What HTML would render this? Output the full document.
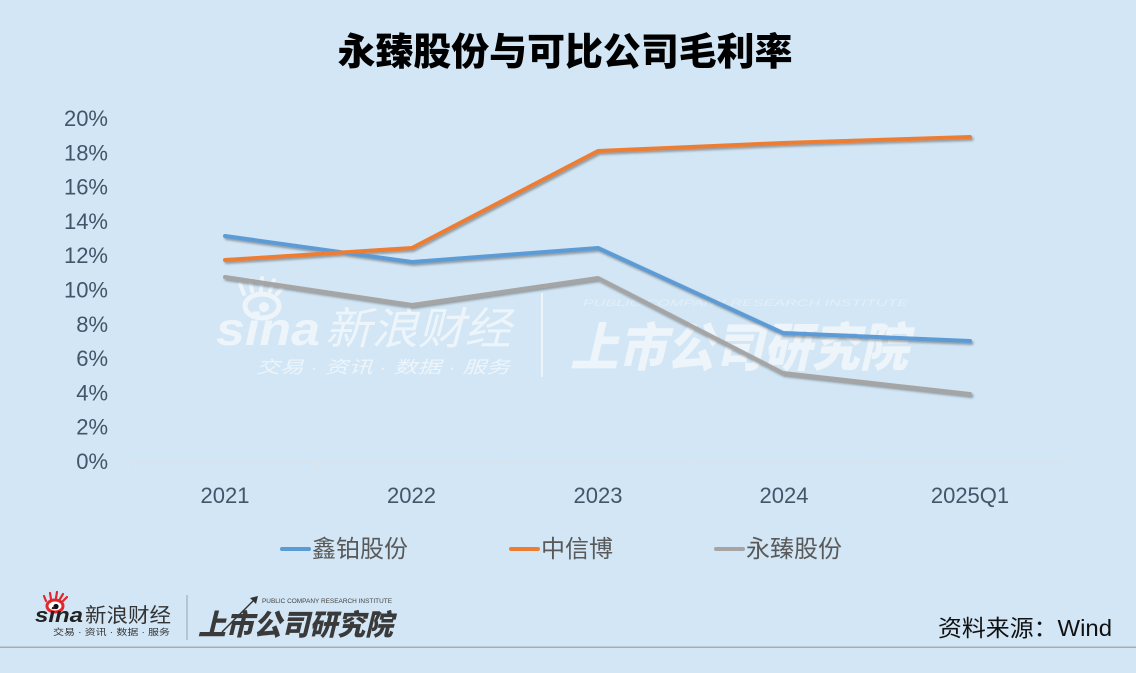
<!DOCTYPE html>
<html>
<head>
<meta charset="utf-8">
<style>
  html,body{margin:0;padding:0;background:#d2e6f5;}
  svg{display:block;}
</style>
</head>
<body>
<svg width="1136" height="673" viewBox="0 0 1136 673" xmlns="http://www.w3.org/2000/svg">
  <defs>
    <filter id="sh" x="-5%" y="-20%" width="110%" height="140%">
      <feDropShadow dx="1.5" dy="2" stdDeviation="1" flood-color="#404040" flood-opacity="0.45"/>
    </filter>
  </defs>
  <rect x="0" y="0" width="1136" height="673" fill="#d2e6f5"/>

  <!-- Title -->
  <text x="565" y="65" text-anchor="middle" font-family="'Liberation Sans','Noto Sans CJK SC',sans-serif" font-weight="900" font-size="38" fill="#000" textLength="455" lengthAdjust="spacingAndGlyphs">永臻股份与可比公司毛利率</text>

  <!-- Y axis labels -->
  <g font-family="'Liberation Sans',sans-serif" font-size="22" fill="#44546a" text-anchor="end">
    <text x="108" y="126">20%</text>
    <text x="108" y="160.3">18%</text>
    <text x="108" y="194.6">16%</text>
    <text x="108" y="228.9">14%</text>
    <text x="108" y="263.2">12%</text>
    <text x="108" y="297.5">10%</text>
    <text x="108" y="331.8">8%</text>
    <text x="108" y="366.1">6%</text>
    <text x="108" y="400.4">4%</text>
    <text x="108" y="434.7">2%</text>
    <text x="108" y="469">0%</text>
  </g>

  <!-- faint axis -->
  <g stroke="#dce3ea" stroke-width="1" fill="none">
    <line x1="132" y1="462" x2="1064" y2="462"/>
    <line x1="132" y1="462" x2="132" y2="469"/>
    <line x1="318.5" y1="462" x2="318.5" y2="469"/>
    <line x1="505" y1="462" x2="505" y2="469"/>
    <line x1="691.5" y1="462" x2="691.5" y2="469"/>
    <line x1="878" y1="462" x2="878" y2="469"/>
    <line x1="1064.5" y1="462" x2="1064.5" y2="469"/>
  </g>

  <!-- X axis labels -->
  <g font-family="'Liberation Sans',sans-serif" font-size="22" fill="#44546a" text-anchor="middle">
    <text x="225" y="503">2021</text>
    <text x="411.5" y="503">2022</text>
    <text x="598" y="503">2023</text>
    <text x="784" y="503">2024</text>
    <text x="970" y="503">2025Q1</text>
  </g>

  <!-- Watermark -->
  <g fill="#ffffff" opacity="0.6">
    <g transform="translate(262,306)">
      <ellipse cx="0" cy="0" rx="17" ry="12" fill="none" stroke="#fff" stroke-width="5"/>
      <circle cx="2" cy="1" r="5"/>
      <path d="M-18,-12 L-22,-22 M-10,-15 L-12,-26 M-1,-16 L0,-28 M8,-15 L12,-26 M15,-12 L22,-20" stroke="#fff" stroke-width="4" fill="none" stroke-linecap="round"/>
    </g>
    <text x="216" y="345" font-family="'Liberation Sans',sans-serif" font-weight="bold" font-style="italic" font-size="46" textLength="104" lengthAdjust="spacingAndGlyphs">sina</text>
    <text x="325" y="344" font-family="'Liberation Sans','Noto Sans CJK SC',sans-serif" font-size="44" font-style="italic" textLength="186" lengthAdjust="spacingAndGlyphs">新浪财经</text>
    <text x="256" y="373" font-family="'Liberation Sans','Noto Sans CJK SC',sans-serif" font-size="17" font-style="italic" textLength="254" lengthAdjust="spacingAndGlyphs">交易 · 资讯 · 数据 · 服务</text>
    <rect x="541" y="293" width="2" height="84"/>
    <text x="583" y="306" font-family="'Liberation Sans',sans-serif" font-size="9" font-style="italic" textLength="325" lengthAdjust="spacingAndGlyphs" opacity="0.6">PUBLIC COMPANY RESEARCH INSTITUTE</text>
    <text x="570" y="366" font-family="'Liberation Sans','Noto Sans CJK SC',sans-serif" font-weight="900" font-size="52" font-style="italic" textLength="338" lengthAdjust="spacingAndGlyphs">上市公司研究院</text>
  </g>

  <!-- Series -->
  <g fill="none" stroke-width="4" stroke-linejoin="round" stroke-linecap="round" filter="url(#sh)">
    <polyline stroke="#a5a5a5" points="225,277 412,305 598,278 783,373 970,394"/>
    <polyline stroke="#5b9bd5" points="225,236 412,262 598,248 783,333 970,341"/>
    <polyline stroke="#ed7d31" points="225,260 412,248 598,151 783,143 970,137"/>
  </g>

  <!-- Legend -->
  <g stroke-width="4" stroke-linecap="round">
    <line x1="282" y1="549" x2="309" y2="549" stroke="#5b9bd5"/>
    <line x1="511" y1="549" x2="538" y2="549" stroke="#ed7d31"/>
    <line x1="716" y1="549" x2="743" y2="549" stroke="#a5a5a5"/>
  </g>
  <g font-family="'Liberation Sans','Noto Sans CJK SC',sans-serif" font-size="24" fill="#595959">
    <text x="312" y="557">鑫铂股份</text>
    <text x="541" y="557">中信博</text>
    <text x="746" y="557">永臻股份</text>
  </g>

  <!-- Bottom logo -->
  <g>
    <g transform="translate(55,606)">
      <ellipse cx="0" cy="0" rx="8" ry="6" fill="#fff" stroke="#e3262b" stroke-width="3"/>
      <circle cx="1" cy="0.5" r="2.6" fill="#111"/>
      <path d="M-9,-5 L-11,-10 M-4,-7 L-5,-13 M1,-8 L2,-14 M5,-7 L8,-12 M8,-5 L12,-9" stroke="#e3262b" stroke-width="2.2" fill="none" stroke-linecap="round"/>
    </g>
    <text x="35" y="622" font-family="'Liberation Sans',sans-serif" font-weight="bold" font-style="italic" font-size="20" fill="#222" textLength="48" lengthAdjust="spacingAndGlyphs">sina</text>
    <text x="85" y="622" font-family="'Liberation Sans','Noto Sans CJK SC',sans-serif" font-size="20" fill="#333" textLength="86" lengthAdjust="spacingAndGlyphs">新浪财经</text>
    <text x="53" y="635" font-family="'Liberation Sans','Noto Sans CJK SC',sans-serif" font-size="8.5" fill="#333" textLength="117" lengthAdjust="spacingAndGlyphs">交易 · 资讯 · 数据 · 服务</text>
    <rect x="186.5" y="595" width="1" height="45" fill="#9aa3ab"/>
    <text x="262" y="603" font-family="'Liberation Sans',sans-serif" font-size="6" fill="#444" textLength="130" lengthAdjust="spacingAndGlyphs">PUBLIC COMPANY RESEARCH INSTITUTE</text>
    <path d="M222,632 L256,598" stroke="#333" stroke-width="1.5"/>
    <path d="M258,596 L250,598 L256,604 Z" fill="#333"/>
    <text x="198" y="635" font-family="'Liberation Sans','Noto Sans CJK SC',sans-serif" font-weight="900" font-style="italic" font-size="29" fill="#3a3a3a" textLength="195" lengthAdjust="spacingAndGlyphs">上市公司研究院</text>
  </g>

  <!-- Source -->
  <text x="938" y="636" font-family="'Liberation Sans','Noto Sans CJK SC',sans-serif" font-size="23" fill="#111" textLength="174" lengthAdjust="spacingAndGlyphs">资料来源：Wind</text>

  <!-- bottom rule -->
  <rect x="0" y="646.5" width="1136" height="1.5" fill="#a9adb1"/>
</svg>
</body>
</html>
